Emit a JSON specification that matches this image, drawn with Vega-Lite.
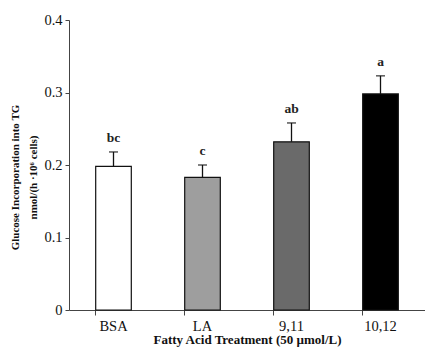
{
  "$schema": "https://vega.github.io/schema/vega-lite/v6.json",
  "width": 356,
  "height": 290,
  "autosize": "none",
  "padding": {"left": 69, "top": 20, "right": 0, "bottom": 41},
  "background": "white",
  "data": {
    "values": [
      {"treatment": "BSA", "value": 0.198, "err": 0.020, "sig": "bc"},
      {"treatment": "LA", "value": 0.183, "err": 0.017, "sig": "c"},
      {"treatment": "9,11", "value": 0.232, "err": 0.026, "sig": "ab"},
      {"treatment": "10,12", "value": 0.298, "err": 0.025, "sig": "a"}
    ]
  },
  "transform": [{"calculate": "datum.value + datum.err", "as": "top"}],
  "encoding": {
    "x": {
      "field": "treatment", "type": "nominal", "sort": null,
      "scale": {"paddingInner": 0.6, "paddingOuter": 0.3},
      "axis": {
        "title": "Fatty Acid Treatment (50 µmol/L)",
        "labelAngle": 0, "labelFont": "Liberation Serif", "labelFontSize": 14.5, "labelColor": "#111",
        "titleFont": "Liberation Serif", "titleFontSize": 13, "titleFontWeight": "bold", "titleColor": "#111",
        "bandPosition": 0, "tickSize": 5, "tickColor": "#444", "domainColor": "#444",
        "labelPadding": 4, "titlePadding": 1
      }
    }
  },
  "layer": [
    {
      "mark": {"type": "bar", "stroke": "#111", "strokeWidth": 1.2},
      "encoding": {
        "y": {
          "field": "value", "type": "quantitative",
          "scale": {"domain": [0, 0.4]},
          "axis": {
            "title": ["Glucose Incorporation into TG", "nmol/(h ·10⁶ cells)"],
            "values": [0, 0.1, 0.2, 0.3, 0.4], "format": "~g", "grid": false,
            "labelFont": "Liberation Serif", "labelFontSize": 14.5, "labelColor": "#111",
            "titleFont": "Liberation Serif", "titleFontSize": 11, "titleFontWeight": "bold", "titleColor": "#111",
            "titleLineHeight": 18, "titleY": 157, "tickSize": 4, "tickColor": "#444", "domainColor": "#444",
            "labelPadding": 3, "titlePadding": 5
          }
        },
        "fill": {
          "field": "treatment", "type": "nominal", "sort": null,
          "scale": {"domain": ["BSA", "LA", "9,11", "10,12"], "range": ["#ffffff", "#9e9e9e", "#6a6a6a", "#000000"]},
          "legend": null
        }
      }
    },
    {
      "mark": {"type": "rule", "color": "#111", "strokeWidth": 1.3},
      "encoding": {
        "y": {"field": "value", "type": "quantitative"},
        "y2": {"field": "top"}
      }
    },
    {
      "mark": {"type": "tick", "color": "#111", "size": 9, "thickness": 1.5, "orient": "horizontal"},
      "encoding": {
        "y": {"field": "top", "type": "quantitative"}
      }
    },
    {
      "mark": {"type": "text", "font": "Liberation Serif", "fontSize": 13.5, "fontWeight": "bold", "color": "#222", "baseline": "bottom", "dy": -7},
      "encoding": {
        "y": {"field": "top", "type": "quantitative"},
        "text": {"field": "sig"}
      }
    }
  ],
  "config": {"view": {"stroke": null}}
}
